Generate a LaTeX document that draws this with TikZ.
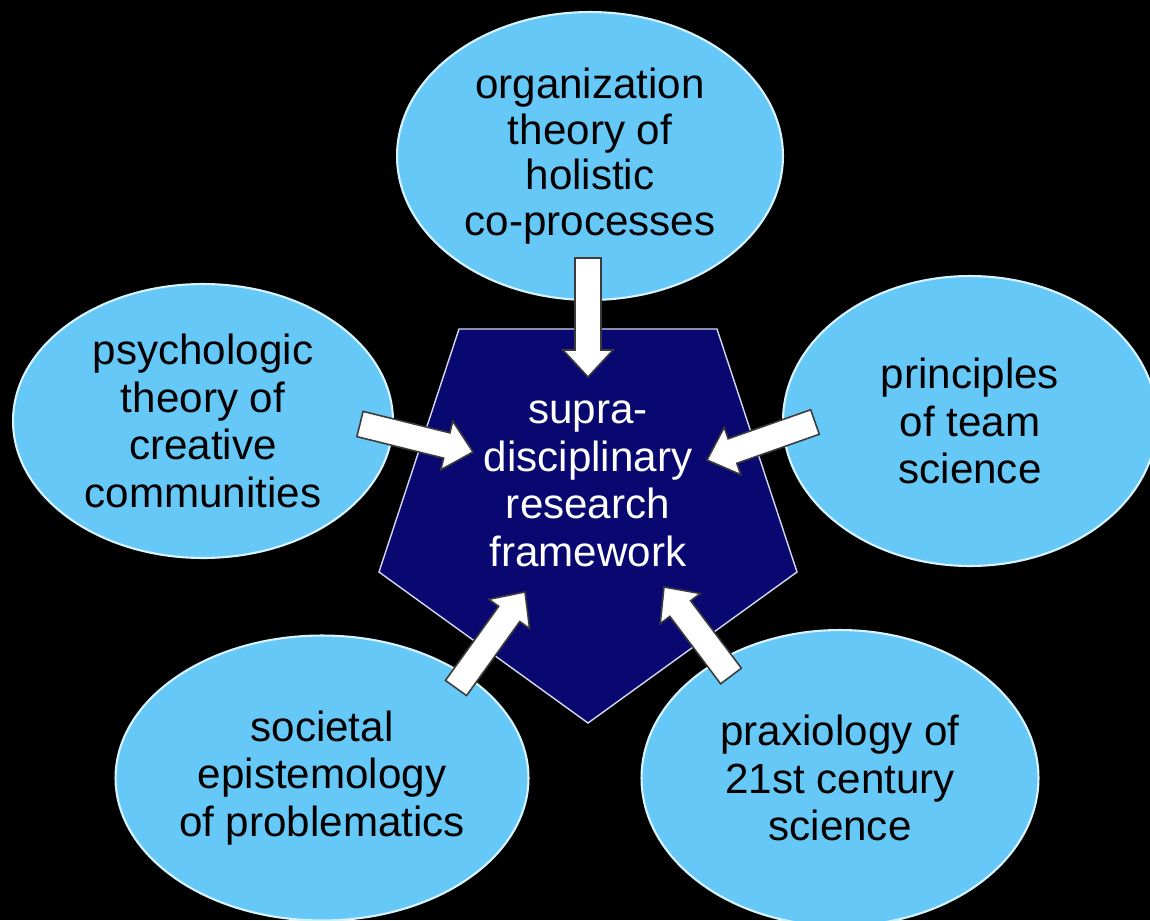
\documentclass[tikz,border=0pt]{standalone}
\usepackage{fontspec}
\setmainfont{Liberation Sans}
\usepackage{tikz}
\usetikzlibrary{shapes.geometric, calc}
\definecolor{bubbleblue}{RGB}{102,200,246}
\definecolor{bubblerim}{RGB}{215,243,255}
\definecolor{hubblue}{RGB}{8,8,112}
\definecolor{hubrim}{RGB}{210,215,240}
\definecolor{arrowrim}{RGB}{60,60,60}
\tikzset{
  bubble/.style={
    ellipse, inner sep=0pt, align=center,
    fill=bubbleblue, draw=bubblerim, line width=1.2pt,
    font=\fontsize{24}{27}\selectfont, text=black
  },
  hubtext/.style={align=center, text=white, font=\fontsize{24}{27}\selectfont},
  fatarrow/.style={fill=white, draw=arrowrim, line width=0.9pt, line join=miter}
}
% block arrow from #1 (tail) to #2 (tip)
\newcommand{\blockarrow}[2]{%
  \coordinate (neck) at ($(#2)!0.54cm!(#1)$);
  \path[fatarrow] ($(#1)!0.26cm!90:(#2)$) -- ($(neck)!0.26cm!90:(#2)$)
    -- ($(neck)!0.5cm!90:(#2)$) -- (#2) -- ($(neck)!0.5cm!-90:(#2)$)
    -- ($(neck)!0.26cm!-90:(#2)$) -- ($(#1)!0.26cm!-90:(#2)$) -- cycle;
}

\begin{document}
\begin{tikzpicture}[x=0.02cm, y=-0.02cm]
  % Background
  \path[use as bounding box, fill=black] (0,0) rectangle (1150,920);

  % Draw the five bubbles
  \node[bubble, minimum width=7.72cm, minimum height=5.76cm,
        font=\fontsize{24}{26}\selectfont] (org) at (590,156)
    {organization\\theory of\\holistic\\co-processes};
  \node[bubble, minimum width=7.6cm, minimum height=5.48cm] (psy) at (203,421)
    {psychologic\\theory of\\creative\\communities};
  \node[bubble, minimum width=7.48cm, minimum height=5.8cm] (team) at (970,421)
    {principles\\of team\\science};
  \node[bubble, minimum width=8.26cm, minimum height=5.7cm] (soc) at (322,778)
    {societal\\epistemology\\of problematics};
  \node[bubble, minimum width=7.94cm, minimum height=5.92cm] (prax) at (840,778)
    {praxiology of\\21st century\\science};

  % Draw the pentagon in the middle
  \draw[fill=hubblue, draw=hubrim, line width=0.8pt, line join=miter]
    (459,329) -- (717,329) -- (797,572) -- (588,723) -- (379,572) -- cycle;
  \node[hubtext] (hub) at (588,484) {supra-\\disciplinary\\research\\framework};

  % Arrow ends
  \coordinate (orgtail) at (588,258);  \coordinate (orgtip) at (588,377);
  \coordinate (psytail) at (360,424);  \coordinate (psytip) at (473,452);
  \coordinate (teamtail) at (815,422); \coordinate (teamtip) at (707,460);
  \coordinate (soctail) at (456,688);  \coordinate (soctip) at (525,592);
  \coordinate (praxtail) at (731,676); \coordinate (praxtip) at (664,587);

  % Draw block arrows
  \foreach \b in {org,psy,team,soc,prax} {
    \blockarrow{\b tail}{\b tip}
  }
\end{tikzpicture}
\end{document}
